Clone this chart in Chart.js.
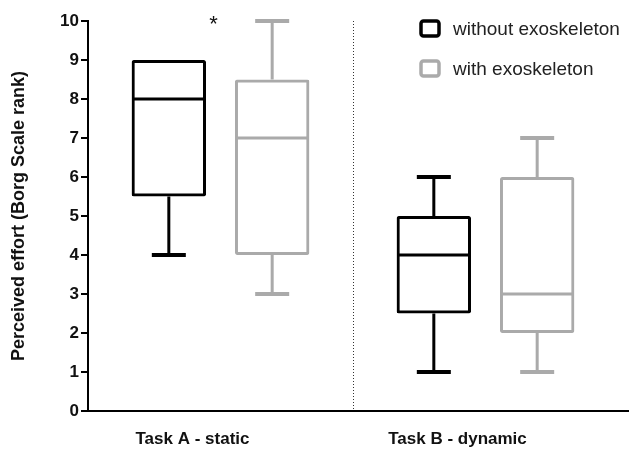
<!DOCTYPE html>
<html>
<head>
<meta charset="utf-8">
<script src="https://cdn.jsdelivr.net/npm/chart.js@4.4.1/dist/chart.umd.min.js"></script>
<style>
  html, body { margin: 0; padding: 0; background: #fff; }
  #wrap { width: 629px; height: 455px; }
</style>
</head>
<body>
<div id="wrap"><canvas id="myChart"></canvas></div>
<script>
const tasks = ['Task A - static', 'Task B - dynamic'];
const seriesNames = ['without exoskeleton', 'with exoskeleton'];

// box plot values per task: min, q1, median, q3, max
const withoutMin = [4, 1];
const withoutQ1 = [5.5, 2.5];
const withoutMedian = [8, 4];
const withoutQ3 = [9, 5];
const withoutMax = [9, 6];

const withMin = [3, 1];
const withQ1 = [4, 2];
const withMedian = [7, 3];
const withQ3 = [8.5, 6];
const withMax = [10, 7];

const yTicks = [0, 1, 2, 3, 4, 5, 6, 7, 8, 9, 10];

const black = '#000000';
const grey = '#aaaaaa';
const fontFamily = '"Liberation Sans", Arial, sans-serif';

const stats = [
    { min: withoutMin, median: withoutMedian, max: withoutMax, color: black },
    { min: withMin, median: withMedian, max: withMax, color: grey }
];

const boxPlotPlugin = {
    id: 'boxPlot',
    afterDatasetsDraw(chart) {
        const ctx = chart.ctx;
        const y = chart.scales.y;
        const x = chart.scales.x;
        const area = chart.chartArea;
        ctx.save();
        stats.forEach((s, i) => {
            const meta = chart.getDatasetMeta(i);
            const ds = chart.data.datasets[i];
            meta.data.forEach((bar, j) => {
                const half = bar.width / 2;
                const lo = ds.data[j][0];
                const hi = ds.data[j][1];
                ctx.strokeStyle = s.color;
                ctx.lineWidth = 3;
                ctx.lineCap = 'butt';
                // median
                ctx.beginPath();
                ctx.moveTo(bar.x - half + 1.5, y.getPixelForValue(s.median[j]));
                ctx.lineTo(bar.x + half - 1.5, y.getPixelForValue(s.median[j]));
                ctx.stroke();
                // whiskers
                ctx.beginPath();
                ctx.moveTo(bar.x, y.getPixelForValue(hi));
                ctx.lineTo(bar.x, y.getPixelForValue(s.max[j]));
                ctx.moveTo(bar.x, y.getPixelForValue(lo));
                ctx.lineTo(bar.x, y.getPixelForValue(s.min[j]));
                ctx.stroke();
                ctx.lineWidth = 4;
                ctx.beginPath();
                if (s.max[j] > hi) {
                    ctx.moveTo(bar.x - 17, y.getPixelForValue(s.max[j]));
                    ctx.lineTo(bar.x + 17, y.getPixelForValue(s.max[j]));
                }
                if (s.min[j] < lo) {
                    ctx.moveTo(bar.x - 17, y.getPixelForValue(s.min[j]));
                    ctx.lineTo(bar.x + 17, y.getPixelForValue(s.min[j]));
                }
                ctx.stroke();
            });
        });

        // dotted divider between tasks
        const divX = Math.round(x.getPixelForValue(0.5)) + 0.5;
        ctx.strokeStyle = '#333';
        ctx.lineWidth = 1;
        ctx.setLineDash([1, 2]);
        ctx.beginPath();
        ctx.moveTo(divX, area.top);
        ctx.lineTo(divX, area.bottom);
        ctx.stroke();
        ctx.setLineDash([]);

        // x axis runs to the edge
        ctx.strokeStyle = black;
        ctx.lineWidth = 2;
        ctx.beginPath();
        ctx.moveTo(area.right - 1, Math.round(x.top));
        ctx.lineTo(chart.width, Math.round(x.top));
        ctx.stroke();

        // significance mark
        const a0 = chart.getDatasetMeta(0).data[0];
        const a1 = chart.getDatasetMeta(1).data[0];
        ctx.fillStyle = '#111';
        ctx.font = '22px ' + fontFamily;
        ctx.textAlign = 'center';
        ctx.textBaseline = 'middle';
        ctx.fillText('*', (a0.x + a1.x) / 2 - 7, y.getPixelForValue(9.9));

        // legend
        ctx.textAlign = 'left';
        ctx.font = '19px ' + fontFamily;
        [black, grey].forEach((c, k) => {
            const ly = 29 + k * 40;
            ctx.strokeStyle = c;
            ctx.lineWidth = 3.5;
            ctx.beginPath();
            ctx.roundRect(421, ly - 8, 18, 15, 2.5);
            ctx.stroke();
            ctx.fillStyle = '#222';
            ctx.fillText(seriesNames[k], 453, ly + 1);
        });
        ctx.restore();
    }
};

const data = {
    labels: tasks,
    datasets: [{
        label: seriesNames[0],
        data: withoutQ1.map((q, i) => [q, withoutQ3[i]]),
        backgroundColor: 'rgba(0,0,0,0)',
        borderColor: black,
        borderWidth: 3,
        borderSkipped: false,
        borderRadius: 2
    }, {
        label: seriesNames[1],
        data: withQ1.map((q, i) => [q, withQ3[i]]),
        backgroundColor: 'rgba(0,0,0,0)',
        borderColor: grey,
        borderWidth: 3,
        borderSkipped: false,
        borderRadius: 2
    }]
};

const config = {
    type: 'bar',
    data: data,
    options: {
        responsive: true,
        maintainAspectRatio: false,
        animation: false,
        categoryPercentage: 0.78,
        barPercentage: 0.72,
        layout: { padding: { top: 21, right: 11, left: 4, bottom: 0 } },
        plugins: {
            legend: { display: false },
            tooltip: { enabled: false }
        },
        scales: {
            x: {
                grid: { display: false },
                border: { display: true, color: black, width: 2 },
                ticks: {
                    color: '#111',
                    padding: 10,
                    labelOffset: -28,
                    font: { family: fontFamily, size: 17, weight: 'bold' }
                },
                afterFit(scale) { scale.height = 44; }
            },
            y: {
                min: 0,
                max: 10,
                afterBuildTicks(scale) { scale.ticks = yTicks.map(v => ({ value: v })); },
                grid: {
                    drawOnChartArea: false,
                    drawTicks: true,
                    tickLength: 7,
                    color: black,
                    lineWidth: 2
                },
                border: { display: true, color: black, width: 2 },
                ticks: {
                    color: '#111',
                    padding: 2,
                    font: { family: fontFamily, size: 17, weight: 'bold' }
                },
                title: {
                    display: true,
                    text: 'Perceived effort (Borg Scale rank)',
                    color: '#111',
                    padding: { top: 4, bottom: 4 },
                    font: { family: fontFamily, size: 18, weight: 'bold' }
                },
                afterFit(scale) { scale.width = 84; }
            }
        }
    },
    plugins: [boxPlotPlugin]
};

new Chart(document.getElementById('myChart'), config);
</script>
</body>
</html>
